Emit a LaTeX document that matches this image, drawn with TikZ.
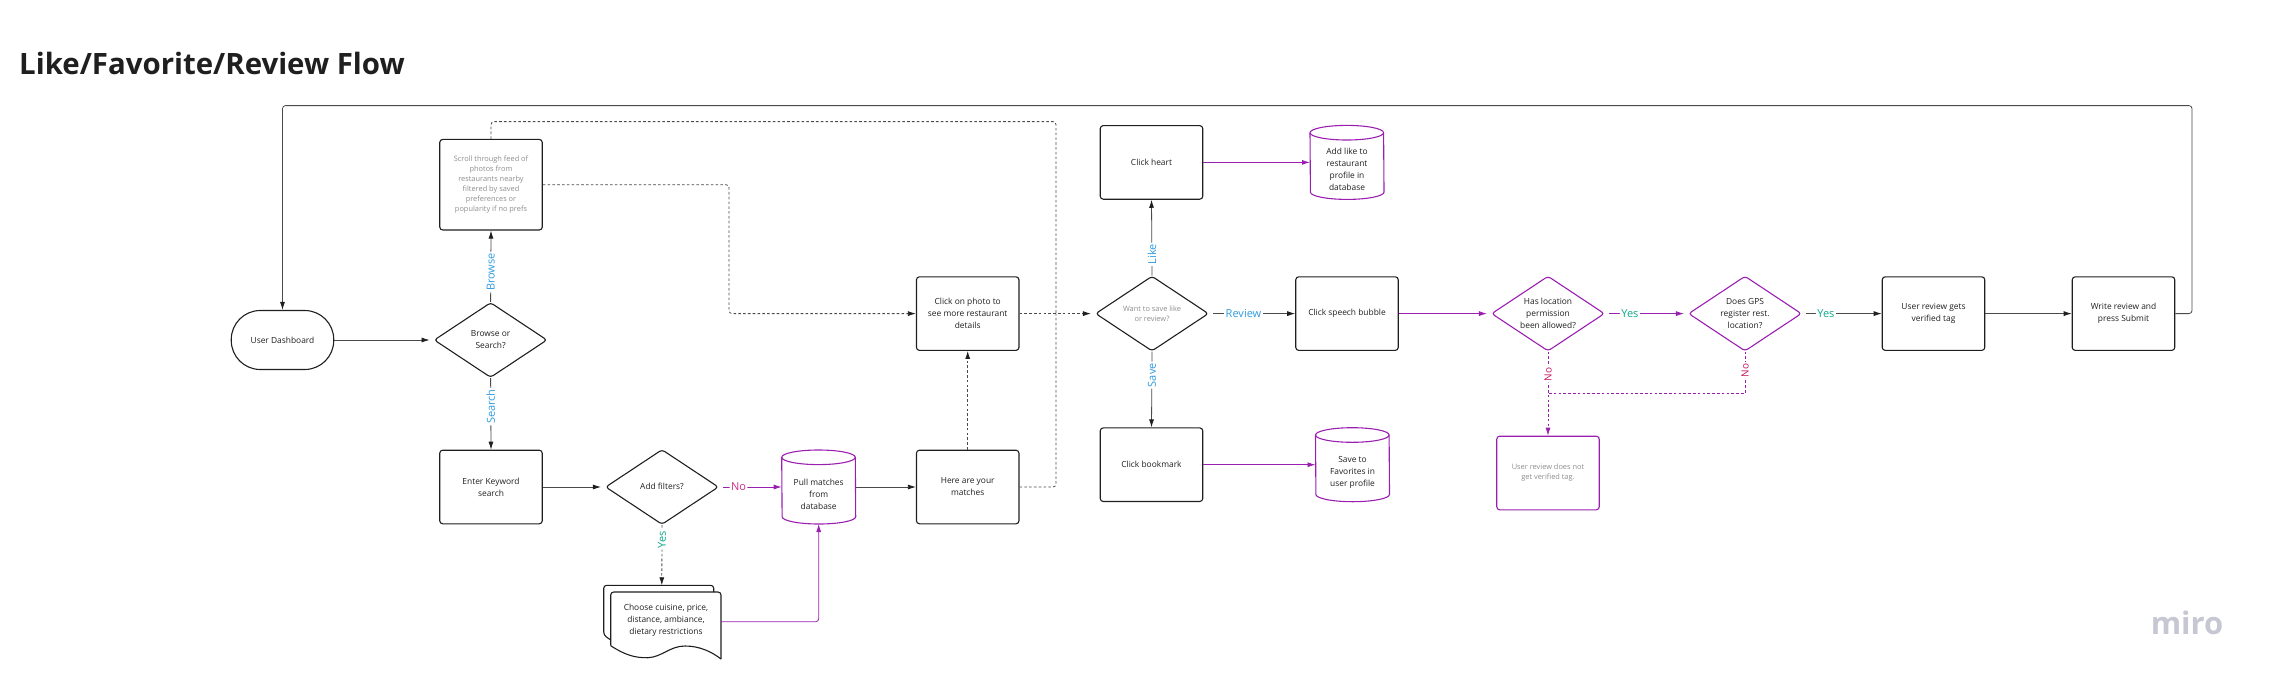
\documentclass[tikz,border=0pt]{standalone}
\usepackage{fontspec}
\setmainfont{Open Sans}
\usetikzlibrary{arrows.meta,calc,shapes.geometric}
\definecolor{inkc}{HTML}{1F1F1F}
\definecolor{linec}{HTML}{4A4A4A}
\definecolor{purp}{HTML}{9A1FB0}
\definecolor{greyt}{HTML}{8E8E8E}
\definecolor{bluet}{HTML}{2F9BE0}
\definecolor{tealt}{HTML}{0FA88A}
\definecolor{pinkt}{HTML}{D02A86}
\definecolor{redt}{HTML}{C2185B}
\definecolor{mirot}{HTML}{C6C7D3}
\newcommand{\nrm}{\fontsize{8.4}{12}\selectfont}
\newcommand{\sml}{\fontsize{7.4}{10}\selectfont}
\newcommand{\zerobox}[2][-2.5pt]{\raisebox{#1}[0pt][0pt]{\makebox[0pt]{\begin{tabular}[c]{@{}c@{}}#2\end{tabular}}}}
\newcommand{\cylpath}[1]{%
  \draw[purp,line width=1.1pt] ($(#1.north west)+(0,7.3)$) arc[start angle=180,end angle=0,x radius=36.8pt,y radius=7.3pt]
    -- ($(#1.south east)+(0,-7.3)$) arc[start angle=0,end angle=-180,x radius=36.8pt,y radius=7.3pt] -- cycle;
  \draw[purp,line width=1.1pt] ($(#1.north west)+(0,7.3)$) arc[start angle=180,end angle=360,x radius=36.8pt,y radius=7.3pt];}
\tikzset{
  boxn/.style={rectangle,draw=inkc,line width=1.1pt,rounded corners=3pt,minimum width=102.5pt,minimum height=73.6pt,inner sep=0pt,align=center,text=inkc,font=\nrm},
  pillb/.style={boxn,rounded corners=29pt,minimum height=59pt},
  dia/.style={diamond,draw=inkc,line width=1.1pt,rounded corners=3pt,minimum width=113pt,minimum height=75pt,inner sep=0pt,aspect=1.5,text=inkc,font=\nrm},
  cyln/.style={rectangle,minimum width=73.6pt,minimum height=73.6pt,inner sep=0pt,align=center,text=inkc,font=\nrm},
  lab/.style={fill=white,inner sep=1.5pt,font=\fontsize{11}{13}\selectfont},
  nolab/.style={lab,rotate=90,text=redt,font=\fontsize{10}{12}\selectfont},
  conn/.style={linec,line width=.8pt,-{Latex[length=8pt,width=5pt,color=inkc]},rounded corners=3pt},
  dconn/.style={conn,dash pattern=on 2.6pt off 2.2pt},
  pconn/.style={purp,line width=.8pt,-{Latex[length=8pt,width=5pt]},rounded corners=3pt},
  pdconn/.style={pconn,dash pattern=on 2.6pt off 2.2pt},
  toD/.style={shorten >=4pt},
  fromD/.style={shorten <=4pt}
}
\begin{document}
\begin{tikzpicture}[x=1pt,y=-1pt]
\useasboundingbox (0,0) rectangle (2275,686);
\node[anchor=base west,inner sep=0pt,text=inkc,font=\fontsize{29.4}{32}\selectfont\bfseries] (title) at (19,74.5) {Like/Favorite/Review Flow};
% nodes
\node[pillb] (dash) at (282.5,340) {User Dashboard};
\node[dia] (bos) at (490.6,340) {\zerobox{Browse or\\Search?}};
\node[boxn,minimum height=90.6pt,text=greyt,font=\sml] (scroll) at (491,184.7) {Scroll through feed of\\photos from\\restaurants nearby\\filtered by saved\\preferences or\\popularity if no prefs};
\node[boxn] (enter) at (491,487) {Enter Keyword\\search};
\node[dia] (filters) at (662,487) {\zerobox{Add filters?}};
\node[cyln] (pull) at (818.7,487) {\zerobox[-10pt]{Pull matches\\from\\database}};
\node[boxn] (here) at (967.7,487) {Here are your\\matches};
\node[boxn] (photo) at (967.7,313.6) {Click on photo to\\see more restaurant\\details};
\node[dia,font=\sml,text=greyt] (want) at (1152,313.6) {\zerobox{Want to save like\\or review?}};
\node[boxn] (heart) at (1151.5,162.4) {Click heart};
\node[boxn] (mark) at (1151.5,464.7) {Click bookmark};
\node[cyln] (like) at (1347,162.4) {\zerobox[-9.5pt]{Add like to\\restaurant\\profile in\\database}};
\node[cyln] (fav) at (1352.5,464.7) {\zerobox[-9.5pt]{Save to\\Favorites in\\user profile}};
\node[boxn] (bubble) at (1347,313.6) {Click speech bubble};
\node[dia,draw=purp] (perm) at (1548,313.6) {\zerobox{Has location\\permission\\been allowed?}};
\node[dia,draw=purp] (gps) at (1745,313.6) {\zerobox{Does GPS\\register rest.\\location?}};
\node[boxn] (verified) at (1933.5,313.6) {User review gets\\verified tag};
\node[boxn] (write) at (2123.5,313.6) {Write review and\\press Submit};
\node[boxn,draw=purp,text=greyt,font=\sml] (notag) at (1548,473) {User review does not\\get verified tag.};
\node[inner sep=0pt,align=center,text=inkc,font=\nrm] (doc) at (666,620) {Choose cuisine, price,\\distance, ambiance,\\dietary restrictions};
\node[anchor=base,inner sep=0pt,text=mirot,font=\fontsize{31}{32}\selectfont\bfseries] (miro) at (2187,634) {miro};
% cylinders
\cylpath{pull}\cylpath{like}\cylpath{fav}
% document stack
\draw[inkc,line width=1.1pt,rounded corners=3pt] (610.7,640) -- (603.7,635) -- (603.7,585.3) -- (713.7,585.3) -- (713.7,592);
\draw[inkc,line width=1.1pt,rounded corners=3pt] (610.7,645.7) -- (610.7,592) -- (721,592) -- (721,659);
\draw[inkc,line width=1.1pt] (610.7,645.7) .. controls (625,655) and (635,658) .. (648,657.7) .. controls (662,657) and (670,646) .. (685,646) .. controls (700,646) and (712,652) .. (721,659);
% coordinates
\coordinate (docin) at (661.8,585.3);
\coordinate (docout) at (721,621.7);
\coordinate (s1) at (729,250);
\coordinate (d1) at (1056,121.6);
\coordinate (d2) at (1056,313.6);
\coordinate (ret) at (2192,105.6);
\coordinate (merge) at (1548,393.4);
% connectors
\draw[conn,toD] (dash.east) -- (bos.west);
\draw[conn] (bos.north) -- node[lab,pos=.42,rotate=90,text=bluet]{Browse} (scroll.south);
\draw[conn] (bos.south) -- node[lab,pos=.4,rotate=90,text=bluet]{Search} (enter.north);
\draw[conn,toD] (enter.east) -- (filters.west);
\draw[pconn,fromD] (filters.east) -- node[lab,pos=.31,text=pinkt]{No} (pull.west);
\draw[dconn] (filters.south) -- node[lab,pos=.24,rotate=90,text=tealt]{Yes} (docin);
\draw[pconn] (docout) -| (pull.south);
\draw[conn] (pull.east) -- (here.west);
\draw[dconn] (here.north) -- (photo.south);
\draw[dconn,-] (here.east) -| (d2);
\draw[dconn,-] (scroll.north) |- (d1) -- (d2);
\draw[dconn] (scroll.east) -| (s1) |- (photo.west);
\draw[dconn,toD] (photo.east) -- (want.west);
\draw[conn] (want.north) -- node[lab,pos=.28,rotate=90,text=bluet]{Like} (heart.south);
\draw[conn] (want.south) -- node[lab,pos=.31,rotate=90,text=bluet]{Save} (mark.north);
\draw[conn,fromD] (want.east) -- node[lab,pos=.4,text=bluet]{Review} (bubble.west);
\draw[pconn] (heart.east) -- (like.west);
\draw[pconn] (mark.east) -- (fav.west);
\draw[pconn,toD] (bubble.east) -- (perm.west);
\draw[pconn,fromD,toD] (perm.east) -- node[lab,pos=.3,text=tealt]{Yes} (gps.west);
\draw[conn,fromD] (gps.east) -- node[lab,pos=.3,text=tealt]{Yes} (verified.west);
\draw[conn] (verified.east) -- (write.west);
\draw[conn] (write.east) -| (ret) -| (dash.north);
\draw[pdconn] (perm.south) -- node[nolab,pos=.27]{No} (notag.north);
\draw[pdconn,-,rounded corners=0pt] (gps.south) -- node[nolab,pos=.45]{No} (gps.south |- merge) -- (merge);
\end{tikzpicture}
\end{document}
